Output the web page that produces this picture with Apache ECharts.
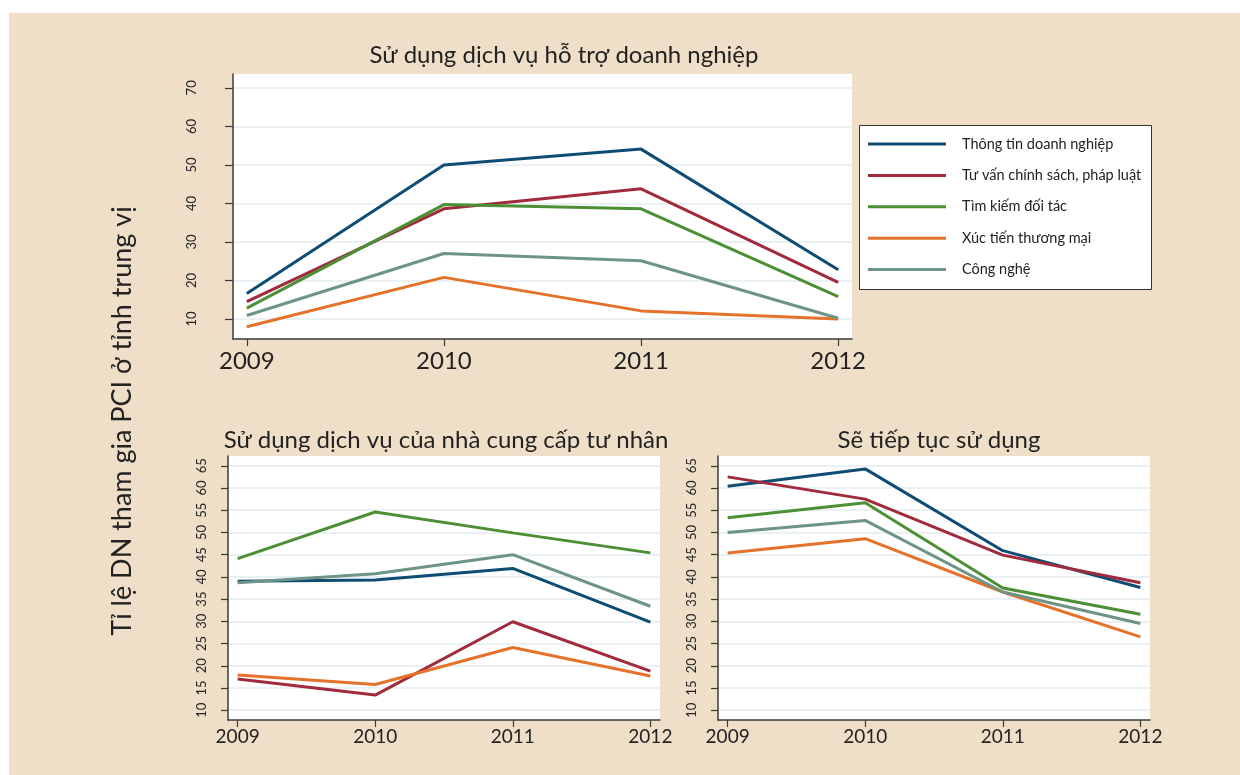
<!DOCTYPE html>
<html><head><meta charset="utf-8">
<script src="https://cdn.jsdelivr.net/npm/echarts@6/dist/echarts.min.js"></script>
<style>
html,body{margin:0;padding:0;background:#fff;}
#bg{position:absolute;left:9px;top:13px;width:1231px;height:762px;background:#EFDFC8;}
#chart{position:absolute;left:0;top:0;width:1240px;height:775px;}
</style></head><body><div id="bg"></div><div id="chart"></div>
<script>
const years = [2009, 2010, 2011, 2012];
const seriesNames = ['Thông tin doanh nghiệp', 'Tư vấn chính sách, pháp luật', 'Tìm kiếm đối tác', 'Xúc tiến thương mại', 'Công nghệ'];
const topTicks = [10, 20, 30, 40, 50, 60, 70];
const bottomTicks = [10, 15, 20, 25, 30, 35, 40, 45, 50, 55, 60, 65];

// Sử dụng dịch vụ hỗ trợ doanh nghiệp
const supportThongTin = [16.6, 50.0, 54.1, 22.8];
const supportTuVan = [14.5, 38.6, 43.8, 19.5];
const supportTimKiem = [12.8, 39.7, 38.6, 15.8];
const supportXucTien = [8.0, 20.8, 12.1, 10.0];
const supportCongNghe = [10.9, 27.0, 25.1, 10.2];

// Sử dụng dịch vụ của nhà cung cấp tư nhân
const privateThongTin = [39.0, 39.3, 41.9, 29.8];
const privateTuVan = [17.0, 13.4, 29.9, 18.8];
const privateTimKiem = [44.1, 54.6, 49.9, 45.4];
const privateXucTien = [17.9, 15.8, 24.1, 17.7];
const privateCongNghe = [38.7, 40.7, 45.0, 33.4];

// Sẽ tiếp tục sử dụng
const continueThongTin = [60.4, 64.3, 45.9, 37.6];
const continueTuVan = [62.5, 57.5, 44.9, 38.7];
const continueTimKiem = [53.3, 56.7, 37.5, 31.6];
const continueXucTien = [45.4, 48.6, 36.6, 26.5];
const continueCongNghe = [50.0, 52.7, 36.6, 29.5];

const colors = ['#0F4C73', '#A12A3D', '#4D8F35', '#E5722B', '#6E9387'];
const FONT = 'Lato';
const AX = '#3a3a3a';
const GRIDC = '#E2ECF1';

const panels = [
  [supportThongTin, supportTuVan, supportTimKiem, supportXucTien, supportCongNghe],
  [privateThongTin, privateTuVan, privateTimKiem, privateXucTien, privateCongNghe],
  [continueThongTin, continueTuVan, continueTimKiem, continueXucTien, continueCongNghe]
];

function xAxis(gi, fs, margin) {
  return {
    type: 'value', gridIndex: gi, min: 2008.93, max: 2012.07,
    axisLine: { show: true, onZero: false, lineStyle: { color: AX, width: 1.5 } },
    axisTick: { show: true, customValues: years, length: 7, lineStyle: { color: AX, width: 1.2 } },
    axisLabel: { customValues: years, fontSize: fs, fontFamily: FONT, color: '#222', margin: margin,
      formatter: v => String(Math.round(v)) },
    splitLine: { show: false }
  };
}
function yAxis(gi, min, max, ticks, margin, tickLen) {
  return {
    type: 'value', gridIndex: gi, min: min, max: max,
    axisLine: { show: true, onZero: false, lineStyle: { color: AX, width: 1.5 } },
    axisTick: { show: true, customValues: ticks, length: tickLen, lineStyle: { color: AX, width: 1.2 } },
    axisLabel: { customValues: ticks, rotate: 90, fontSize: 13, fontFamily: FONT, color: '#222', margin: margin,
      formatter: v => String(Math.round(v)) },
    splitLine: { show: true, lineStyle: { color: GRIDC, width: 1.5 } }
  };
}

const series = [];
panels.forEach((panel, gi) => {
  panel.forEach((arr, si) => {
    series.push({
      type: 'line', name: seriesNames[si], xAxisIndex: gi, yAxisIndex: gi,
      data: years.map((y, i) => [y, arr[i]]),
      symbol: 'none', silent: true,
      lineStyle: { color: colors[si], width: 3 }, itemStyle: { color: colors[si] }
    });
  });
});

const chart = echarts.init(document.getElementById('chart'));
chart.setOption({
  backgroundColor: 'transparent',
  animation: false,
  title: [
    { text: 'Sử dụng dịch vụ hỗ trợ doanh nghiệp', left: 559, top: 38, textAlign: 'center',
      textStyle: { fontFamily: FONT, fontSize: 24, fontWeight: 'normal', color: '#222' } },
    { text: 'Sử dụng dịch vụ của nhà cung cấp tư nhân', left: 441, top: 423, textAlign: 'center',
      textStyle: { fontFamily: FONT, fontSize: 24, fontWeight: 'normal', color: '#222' } },
    { text: 'Sẽ tiếp tục sử dụng', left: 934, top: 423, textAlign: 'center',
      textStyle: { fontFamily: FONT, fontSize: 24, fontWeight: 'normal', color: '#222' } }
  ],
  legend: {
    data: seriesNames, orient: 'vertical', left: 868, top: 136, padding: 0,
    icon: 'rect', itemWidth: 78, itemHeight: 3, itemGap: 15.4, selectedMode: false,
    textStyle: { fontFamily: FONT, fontSize: 14.5, lineHeight: 16, color: '#222', padding: [0, 0, 0, 11] }
  },
  grid: [
    { left: 233, top: 74, width: 619, height: 265, show: true, backgroundColor: '#fff', borderWidth: 0 },
    { left: 228, top: 456, width: 432, height: 264, show: true, backgroundColor: '#fff', borderWidth: 0 },
    { left: 718, top: 456, width: 432, height: 264, show: true, backgroundColor: '#fff', borderWidth: 0 }
  ],
  xAxis: [xAxis(0, 24, 10), xAxis(1, 19, 7), xAxis(2, 19, 7)],
  yAxis: [
    yAxis(0, 4.8, 73.6, topTicks, 35, 8),
    yAxis(1, 7.8, 67.2, bottomTicks, 20, 7),
    yAxis(2, 7.8, 67.2, bottomTicks, 20, 7)
  ],
  graphic: [
    { type: 'rect', z: 0, shape: { x: 859.5, y: 125.5, width: 292, height: 164 },
      style: { fill: '#fff', stroke: '#333', lineWidth: 1 } },
    { type: 'text', x: 122, y: 421, rotation: Math.PI / 2,
      style: { text: 'Tỉ lệ DN tham gia PCI ở tỉnh trung vị', font: '27px Lato', fill: '#222', align: 'center', verticalAlign: 'middle' } }
  ],
  series: series
});
</script></body></html>
